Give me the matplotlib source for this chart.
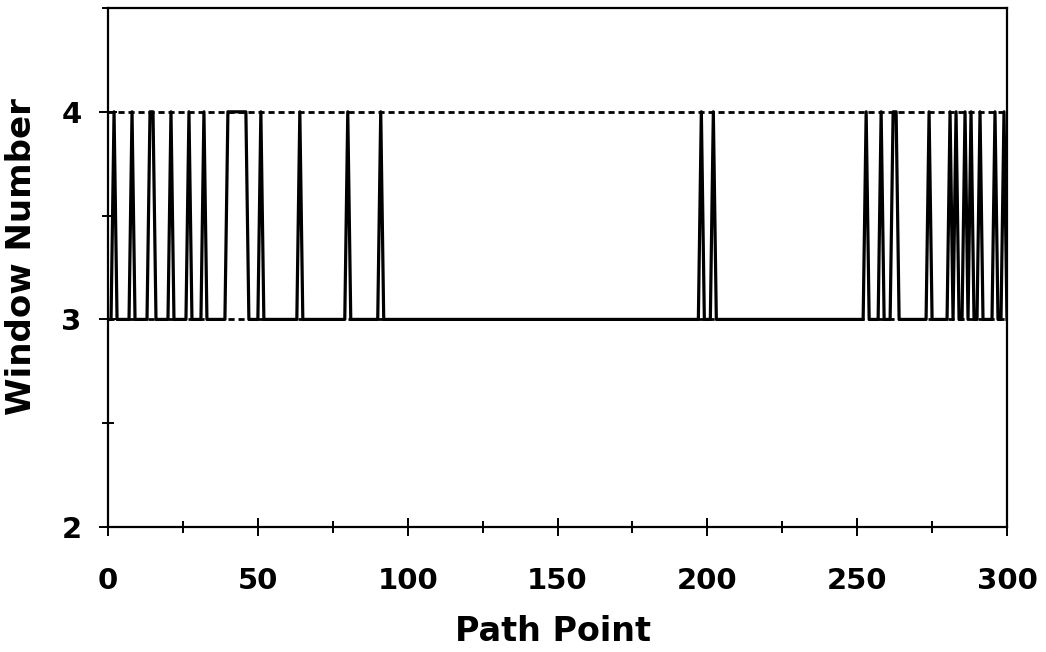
import numpy as np
import matplotlib
matplotlib.use("Agg")
from matplotlib import pyplot as plt
from matplotlib.ticker import MultipleLocator

plt.rcParams['font.family'] = ['DejaVu Sans']
plt.rcParams['font.weight'] = 'bold'

# path points where the window number is 4 (all others are 3)
window4_points = [2, 8, 14, 15, 21, 27, 32, 40, 41, 42, 43, 44, 45, 46, 51, 64, 80, 91,
                  198, 202, 253, 258, 262, 263, 274, 281, 283, 286, 288, 291, 296, 299]
path_points = np.arange(0, 301)
window = np.where(np.isin(path_points, window4_points), 4, 3)

bound_x = [0, 300]
lower_bound = [3, 3]
upper_bound = [4, 4]

fig = plt.figure(figsize=(10.46, 6.52), dpi=100)
ax = fig.add_axes([0.1033, 0.1917, 0.8594, 0.796])

ax.plot(bound_x, upper_bound, color='black', lw=2.0, ls=(0, (2.2, 1.4)))
ax.plot(bound_x, lower_bound, color='black', lw=2.0, ls=(0, (2.2, 1.4)))
ax.plot(path_points, window, color='black', lw=2.3)

ax.set_xlim(0, 300)
ax.set_ylim(2, 4.5)
ax.xaxis.set_major_locator(MultipleLocator(50))
ax.xaxis.set_minor_locator(MultipleLocator(25))
ax.yaxis.set_major_locator(MultipleLocator(1))
ax.yaxis.set_minor_locator(MultipleLocator(0.5))

ax.tick_params(which='major', direction='inout', length=13, width=1.4, labelsize=21)
ax.tick_params(which='minor', direction='inout', length=8.5, width=1.4)
ax.tick_params(axis='x', which='major', pad=22)
ax.tick_params(axis='y', which='major', pad=12.5)
for s in ax.spines.values():
    s.set_linewidth(1.6)

ax.set_xlabel('Path Point', fontsize=24, fontweight='bold')
ax.set_ylabel('Window Number', fontsize=24.5, fontweight='bold')
ax.xaxis.set_label_coords(0.4955, -0.17)
ax.yaxis.set_label_coords(-0.078, 0.522)

plt.savefig('out.png', dpi=100)
